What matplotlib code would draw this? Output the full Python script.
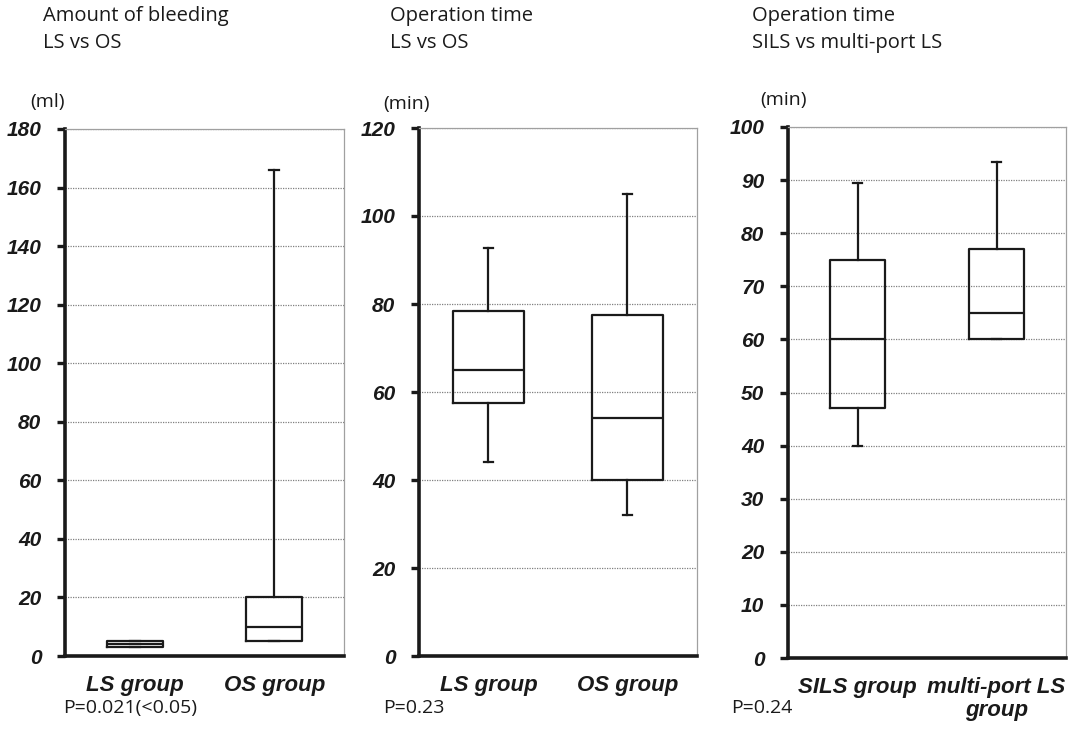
import matplotlib.pyplot as plt
from matplotlib.ticker import MultipleLocator

# panel 1: amount of bleeding (ml)
bleed_groups = ["LS group", "OS group"]
bleed_low = [3, 5]
bleed_q1 = [3, 5]
bleed_med = [4, 10]
bleed_q3 = [5, 20]
bleed_high = [5, 166]

# panel 2: operation time LS vs OS (min)
op_groups = ["LS group", "OS group"]
op_low = [44, 32]
op_q1 = [57.5, 40]
op_med = [65, 54]
op_q3 = [78.5, 77.5]
op_high = [92.7, 105]

# panel 3: operation time SILS vs multi-port LS (min)
sils_groups = ["SILS group", "multi-port LS\ngroup"]
sils_low = [40, 60]
sils_q1 = [47, 60]
sils_med = [60, 65]
sils_q3 = [75, 77]
sils_high = [89.5, 93.5]

titles = ["Amount of bleeding\nLS vs OS",
          "Operation time\nLS vs OS",
          "Operation time\nSILS vs multi-port LS"]
units = ["(ml)", "(min)", "(min)"]
pvalues = ["P=0.021(<0.05)", "P=0.23", "P=0.24"]

W, H = 1069, 742


def make_stats(groups, low, q1, med, q3, high):
    stats = []
    for i in range(len(groups)):
        stats.append(dict(whislo=low[i], q1=q1[i], med=med[i], q3=q3[i],
                          whishi=high[i], fliers=[], label=groups[i]))
    return stats


def draw_panel(rect, stats, ymax, ystep, box_w):
    left, right, top, bottom = rect
    ax = fig.add_axes([left / W, 1 - bottom / H, (right - left) / W, (bottom - top) / H])
    line = dict(color="#1a1a1a", linewidth=1.6)
    ax.bxp(stats, positions=[1, 2], widths=box_w, capwidths=0.07,
           boxprops=line, whiskerprops=line, capprops=line,
           medianprops=line, showfliers=False, zorder=3)
    ax.set_xlim(0.5, 2.5)
    ax.set_ylim(0, ymax)
    ax.yaxis.set_major_locator(MultipleLocator(ystep))
    ax.grid(axis="y", linestyle=(0, (1, 1)), color="#808080", linewidth=0.9, zorder=0)
    ax.set_axisbelow(True)
    for s in ["left", "bottom"]:
        ax.spines[s].set_linewidth(2.6)
        ax.spines[s].set_color("#1a1a1a")
    for s in ["top", "right"]:
        ax.spines[s].set_linewidth(0.9)
        ax.spines[s].set_color("#a0a0a0")
    ax.tick_params(axis="y", direction="out", length=6, width=2.4, color="#1a1a1a",
                   labelsize=15, pad=11)
    ax.tick_params(axis="x", length=0, pad=14, labelsize=16)
    for t in ax.get_yticklabels():
        t.set_fontweight("bold")
        t.set_fontstyle("italic")
        t.set_color("#1a1a1a")
    for t in ax.get_xticklabels():
        t.set_fontweight("bold")
        t.set_fontstyle("italic")
        t.set_color("#1a1a1a")
        t.set_linespacing(1.1)
        t.set_verticalalignment("top")
    return ax


plt.rcParams["font.family"] = ["Liberation Sans", "DejaVu Sans"]
fig = plt.figure(figsize=(W / 100, H / 100), dpi=100)

draw_panel((65, 344, 129, 656),
           make_stats(bleed_groups, bleed_low, bleed_q1, bleed_med, bleed_q3, bleed_high),
           180, 20, 0.4)
draw_panel((419, 697, 128, 656),
           make_stats(op_groups, op_low, op_q1, op_med, op_q3, op_high),
           120, 20, 0.51)
draw_panel((788, 1066, 127, 658),
           make_stats(sils_groups, sils_low, sils_q1, sils_med, sils_q3, sils_high),
           100, 10, 0.4)

title_x = [43, 390, 752]
unit_x = [30, 383, 760]
unit_y = [102, 104, 100]
p_x = [63, 383, 731]
for i in range(3):
    fig.text(title_x[i] / W, 1 - 6 / H, titles[i], ha="left", va="top",
             fontsize=14.5, family="Open Sans", color="#1a1a1a", linespacing=1.45)
    fig.text(unit_x[i] / W, 1 - unit_y[i] / H, units[i], ha="left", va="center",
             fontsize=14, family="Open Sans", color="#1a1a1a")
    fig.text(p_x[i] / W, 1 - 708 / H, pvalues[i], ha="left", va="center",
             fontsize=14, family="Open Sans", color="#1a1a1a")

fig.savefig("out.png", dpi=100, facecolor="white")
